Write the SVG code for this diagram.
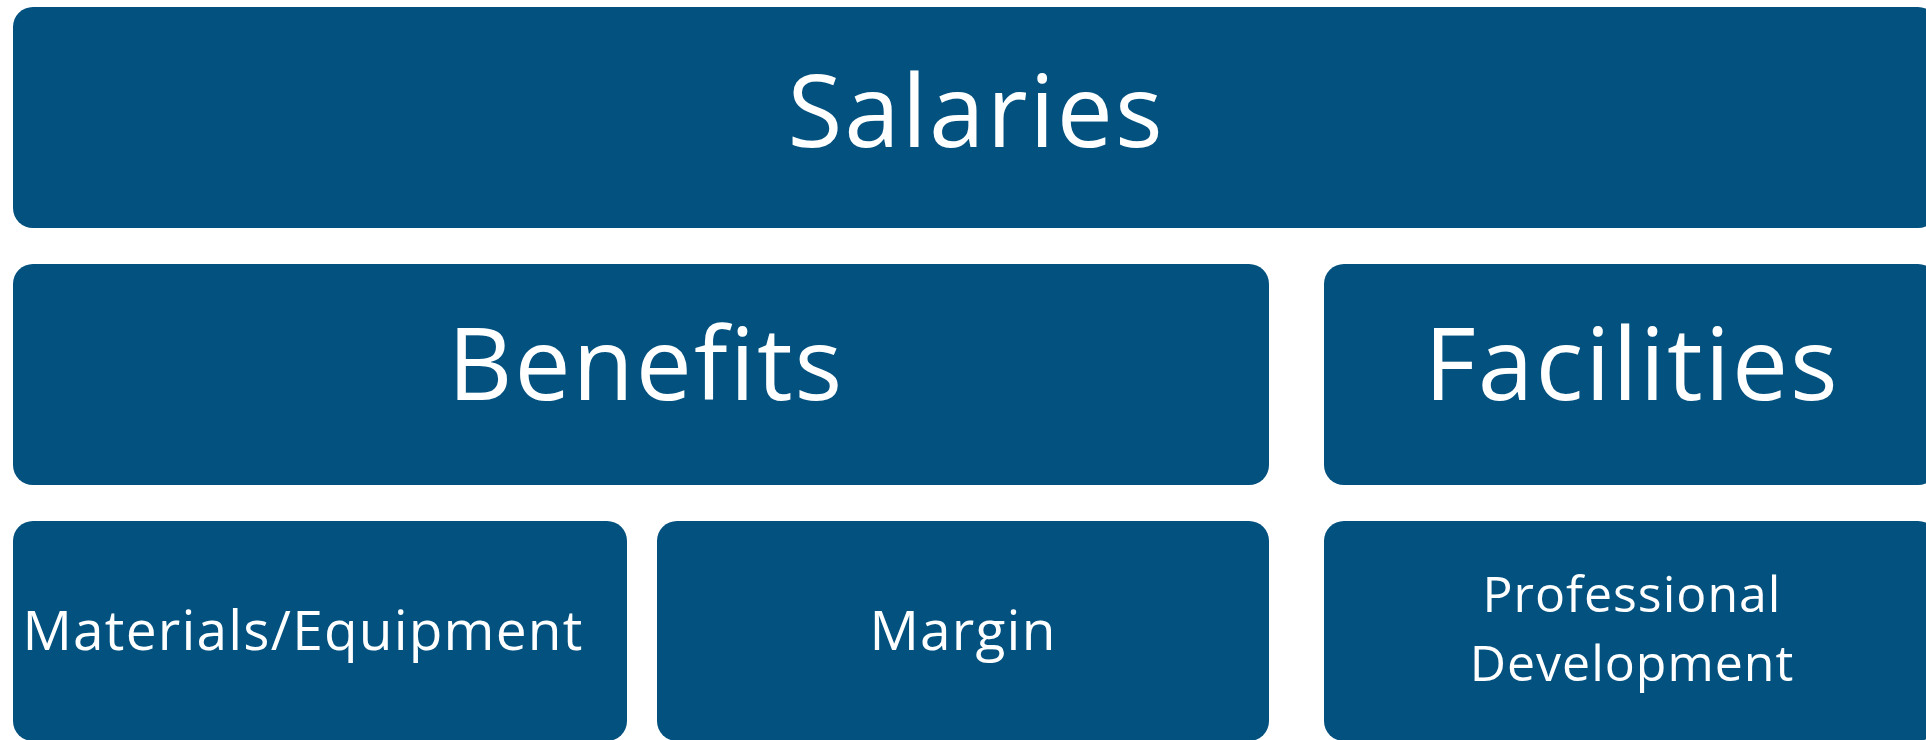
<svg xmlns="http://www.w3.org/2000/svg" width="1926" height="740" viewBox="0 0 1926 740">
  <style>
    .box { fill: #02517F; }
    .lbl { fill: #FFFFFF; font-family: "Open Sans", Lato, "Liberation Sans", sans-serif; text-anchor: middle; font-variant-ligatures: none; }
    .big { font-size: 100px; letter-spacing: 2px; }
    .small { font-size: 55px; letter-spacing: 1.2px; }
    .pair { font-size: 50px; letter-spacing: 1px; }
  </style>
  <rect x="0" y="0" width="1926" height="740" fill="#FFFFFF"/>

  <!-- top tier -->
  <g id="salaries">
    <rect class="box" x="13" y="7" width="1925" height="221" rx="20"/>
    <text class="lbl big" x="976" y="147">Salaries</text>
  </g>

  <!-- middle tier -->
  <g id="benefits">
    <rect class="box" x="13" y="264" width="1256" height="221" rx="20"/>
    <text class="lbl big" x="646" y="400">Benefits</text>
  </g>
  <g id="facilities">
    <rect class="box" x="1324" y="264" width="614" height="221" rx="20"/>
    <text class="lbl big" x="1632" y="400">Facilities</text>
  </g>

  <!-- bottom tier -->
  <g id="materials-equipment">
    <rect class="box" x="13" y="521" width="614" height="220" rx="20"/>
    <text class="lbl small" x="303" y="650">Materials/Equipment</text>
  </g>
  <g id="margin">
    <rect class="box" x="657" y="521" width="612" height="220" rx="20"/>
    <text class="lbl small" x="963" y="650">Margin</text>
  </g>
  <g id="professional-development">
    <rect class="box" x="1324" y="521" width="614" height="220" rx="20"/>
    <text class="lbl pair"><tspan x="1632" y="612">Professional</tspan><tspan x="1632" y="681">Development</tspan></text>
  </g>
</svg>
